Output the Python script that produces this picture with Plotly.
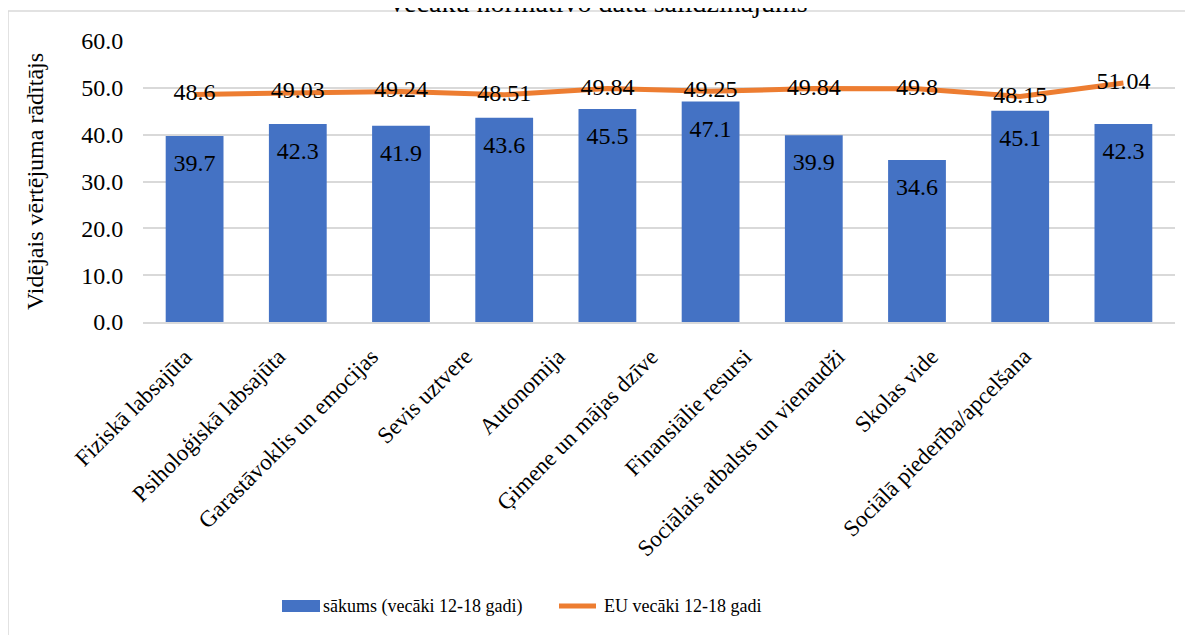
import plotly.graph_objects as go

# data
categories = [
    "Fiziskā labsajūta", "Psiholoģiskā labsajūta", "Garastāvoklis un emocijas",
    "Sevis uztvere", "Autonomija", "Ģimene un mājas dzīve", "Finansiālie resursi",
    "Sociālais atbalsts un vienaudži", "Skolas vide", "Sociālā piederība/apcelšana",
]
sakums = [39.7, 42.3, 41.9, 43.6, 45.5, 47.1, 39.9, 34.6, 45.1, 42.3]
eu = [48.6, 49.03, 49.24, 48.51, 49.84, 49.25, 49.84, 49.8, 48.15, 51.04]
bar_labels = [f"{v:.1f}" for v in sakums]
eu_labels = [f"{v:g}" for v in eu]
series_names = ["sākums (vecāki 12-18 gadi)", "EU vecāki 12-18 gadi"]

FONT = "'Liberation Serif', 'Times New Roman', serif"
BLUE, ORANGE = "#4472C4", "#ED7D31"
W, H = 1193, 635
OFF = 8  # page body margin shifts the figure by 8px
L, T = 143 - OFF, 41 - OFF
PW, PH = 1175 - 143, 322 - 41
R, B = W - L - PW, H - T - PH


def px_x(x):
    # screen pixel -> paper coordinate
    return (x - OFF - L) / PW


def px_y(y):
    return (T + PH - (y - OFF)) / PH


fig = go.Figure()
fig.add_trace(go.Bar(
    x=categories, y=sakums, name=series_names[0], showlegend=False,
    marker=dict(color=BLUE, line=dict(width=0)),
    hoverinfo="x+y",
))
# bar value labels, a bit below the top of each bar
fig.add_trace(go.Scatter(
    x=categories, y=sakums, mode="markers+text", showlegend=False,
    marker=dict(size=26, opacity=0),
    text=bar_labels, textposition="bottom center",
    textfont=dict(family=FONT, size=24, color="black"),
    hoverinfo="skip",
))
fig.add_trace(go.Scatter(
    x=categories, y=eu, name=series_names[1], mode="lines+text", showlegend=False,
    line=dict(color=ORANGE, width=5),
    text=eu_labels, textposition="middle center",
    textfont=dict(family=FONT, size=24, color="black"),
))

# category labels: Excel packs the rotated labels slightly tighter than the bars
for i, cat in enumerate(categories):
    fig.add_annotation(text=cat, showarrow=False, textangle=-45,
                       xref="x", x=cat, xshift=5 - 9.9 * i,
                       yref="paper", y=px_y(341),
                       xanchor="right", yanchor="top",
                       font=dict(family=FONT, size=23, color="black"))

# legend drawn by hand so the swatches look like the Excel ones
fig.add_shape(type="rect", xref="paper", yref="paper",
              x0=px_x(282), x1=px_x(320), y0=px_y(612), y1=px_y(600),
              fillcolor=BLUE, line=dict(width=0))
fig.add_shape(type="line", xref="paper", yref="paper",
              x0=px_x(559), x1=px_x(596), y0=px_y(606), y1=px_y(606),
              line=dict(color=ORANGE, width=5))
for xpos, name in zip([321, 602], series_names):
    fig.add_annotation(text=name, showarrow=False, xref="paper", yref="paper",
                       x=px_x(xpos), y=px_y(606), xanchor="left", yanchor="middle",
                       font=dict(family=FONT, size=18, color="black"))

# outer chart frame (cropped at the right/bottom like the screenshot)
fig.add_shape(type="rect", xref="paper", yref="paper", layer="below",
              x0=px_x(8), x1=px_x(W + 30), y0=px_y(H + 30), y1=px_y(11),
              line=dict(color="#d9d9d9", width=1.5))

# title, mostly cut off at the top edge
fig.add_annotation(text="Vecāku normatīvo datu salīdzinājums", showarrow=False,
                   xref="paper", yref="paper", x=px_x(597), y=px_y(20),
                   xanchor="center", yanchor="bottom",
                   font=dict(family=FONT, size=28, color="black"))

fig.update_layout(
    width=W, height=H,
    margin=dict(l=L, r=R, t=T, b=B, autoexpand=False),
    paper_bgcolor="white", plot_bgcolor="white",
    font=dict(family=FONT, color="black"),
    bargap=0.44,
    showlegend=False,
)
fig.update_yaxes(range=[0, 60], dtick=10, tickformat=".1f", automargin=False,
                 showgrid=True, gridcolor="#d9d9d9", gridwidth=1.5,
                 zeroline=False, showline=False,
                 ticks="outside", ticklen=14, tickcolor="rgba(0,0,0,0)",
                 tickfont=dict(family=FONT, size=24),
                 title=dict(text="Vidējais vērtējuma rādītājs",
                            font=dict(family=FONT, size=24), standoff=30))
fig.update_xaxes(range=[-0.5, len(categories) - 0.5], showticklabels=False,
                 showline=True, linecolor="#d9d9d9", linewidth=1.5,
                 automargin=False)

fig.write_html("out.html")
